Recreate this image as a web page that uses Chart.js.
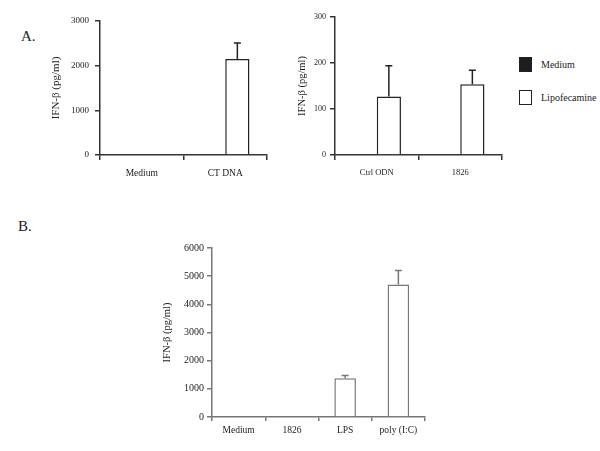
<!DOCTYPE html>
<html>
<head>
<meta charset="utf-8">
<script src="https://cdn.jsdelivr.net/npm/chart.js@4.4.0/dist/chart.umd.min.js"></script>
<style>
    body { margin: 0; background: #fff; width: 600px; height: 451px; position: relative; overflow: hidden; font-family: 'Liberation Serif', serif; }
    .box { position: absolute; }
    .panel-label { position: absolute; font-size: 15px; color: #222; }
    .legend { position: absolute; left: 519px; top: 48px; font-size: 10px; color: #222; }
    .legend-item { display: flex; align-items: center; height: 33px; }
    .legend-swatch { width: 13px; height: 15px; box-sizing: border-box; border: 1.5px solid #222; margin-right: 9px; }
</style>
</head>
<body>
<div class="panel-label" style="left:21px; top:28px;">A.</div>
<div class="panel-label" style="left:18px; top:218px;">B.</div>

<div class="box" style="left:45px; top:0px; width:235px; height:190px;"><canvas id="chartA1"></canvas></div>
<div class="box" style="left:290px; top:0px; width:220px; height:190px;"><canvas id="chartA2"></canvas></div>
<div class="box" style="left:150px; top:230px; width:290px; height:220px;"><canvas id="chartB"></canvas></div>
<div class="legend" id="legend"></div>

<script>
// данные
const seriesNames = ['Medium', 'Lipofecamine'];
const seriesColors = ['#1e1e1e', '#ffffff'];

const a1Labels = ['Medium', 'CT DNA'];
const a1Medium = [0, 0];
const a1Lipo = [0, 2150];
const a1LipoErr = [0, 360];

const a2Labels = ['Ctrl ODN', '1826'];
const a2Medium = [0, 0];
const a2Lipo = [127, 154];
const a2LipoErr = [67, 30];

const bLabels = ['Medium', '1826', 'LPS', 'poly (I:C)'];
const bValues = [0, 0, 1380, 4700];
const bErr = [0, 0, 90, 500];

const yTitle = 'IFN-β (pg/ml)';

// плагин для планок погрешностей
const errorBarPlugin = {
    id: 'errorBars',
    afterDatasetsDraw(chart) {
        const ctx = chart.ctx;
        const yScale = chart.scales.y;
        chart.data.datasets.forEach((ds, di) => {
            if (!ds.errors) return;
            const meta = chart.getDatasetMeta(di);
            meta.data.forEach((bar, i) => {
                const err = ds.errors[i];
                if (!err) return;
                const top = yScale.getPixelForValue(ds.data[i] + err);
                ctx.save();
                ctx.strokeStyle = ds.borderColor;
                ctx.lineWidth = ds.borderWidth;
                ctx.beginPath();
                ctx.moveTo(bar.x, bar.y);
                ctx.lineTo(bar.x, top);
                ctx.moveTo(bar.x - 3.5, top);
                ctx.lineTo(bar.x + 3.5, top);
                ctx.stroke();
                ctx.restore();
            });
        });
    }
};

function makeChart(id, cfg) {
    const lineColor = cfg.lineColor;
    return new Chart(document.getElementById(id), {
        type: 'bar',
        data: { labels: cfg.labels, datasets: cfg.datasets },
        options: {
            responsive: true,
            maintainAspectRatio: false,
            animation: false,
            layout: { padding: cfg.padding },
            plugins: { legend: { display: false }, tooltip: { enabled: false } },
            scales: {
                x: {
                    afterFit: (s) => { s.height = cfg.xHeight; },
                    grid: { drawOnChartArea: false, drawTicks: true, tickLength: cfg.tickLength, color: lineColor, lineWidth: 1.5 },
                    border: { color: lineColor, width: 1.5 },
                    ticks: { color: '#222', padding: cfg.xPad, font: { family: 'Liberation Serif', size: cfg.xFont } }
                },
                y: {
                    min: 0,
                    max: cfg.yMax,
                    afterFit: (s) => { s.width = cfg.yWidth; },
                    grid: { drawOnChartArea: false, drawTicks: true, tickLength: 5, color: lineColor, lineWidth: 1.5 },
                    border: { color: lineColor, width: 1.5 },
                    ticks: {
                        stepSize: cfg.yStep,
                        color: '#222',
                        padding: cfg.yPad,
                        font: { family: 'Liberation Serif', size: cfg.yFont },
                        callback: (v) => String(v)
                    },
                    title: {
                        display: true,
                        text: yTitle,
                        color: '#222',
                        padding: { top: cfg.titlePad, bottom: 0 },
                        font: { family: 'Liberation Serif', size: cfg.titleFont }
                    }
                }
            }
        },
        plugins: [errorBarPlugin]
    });
}

function groupedDatasets(medium, lipo, errs) {
    return [
        {
            label: seriesNames[0],
            data: medium,
            backgroundColor: seriesColors[0],
            borderColor: '#222',
            borderWidth: 0,
            categoryPercentage: 0.58,
            barPercentage: 1.0
        },
        {
            label: seriesNames[1],
            data: lipo,
            errors: errs,
            backgroundColor: seriesColors[1],
            borderColor: '#222',
            borderWidth: 1.5,
            borderSkipped: 'bottom',
            categoryPercentage: 0.58,
            barPercentage: 1.0
        }
    ];
}

makeChart('chartA1', {
    labels: a1Labels,
    datasets: groupedDatasets(a1Medium, a1Lipo, a1LipoErr),
    lineColor: '#333',
    padding: { top: 21, right: 13, bottom: 5, left: 0 },
    xHeight: 30, yWidth: 55, tickLength: 5, xPad: 8, yPad: 6,
    xFont: 9.5, yFont: 9, yMax: 3000, yStep: 1000, titlePad: 5, titleFont: 11
});

makeChart('chartA2', {
    labels: a2Labels,
    datasets: groupedDatasets(a2Medium, a2Lipo, a2LipoErr),
    lineColor: '#333',
    padding: { top: 17, right: 8, bottom: 5, left: 0 },
    xHeight: 30, yWidth: 45, tickLength: 5, xPad: 8, yPad: 4,
    xFont: 8.5, yFont: 8, yMax: 300, yStep: 100, titlePad: 6, titleFont: 10.5
});

makeChart('chartB', {
    labels: bLabels,
    datasets: [{
        label: 'IFN-β',
        data: bValues,
        errors: bErr,
        backgroundColor: '#ffffff',
        borderColor: '#777',
        borderWidth: 1.5,
        borderSkipped: 'bottom',
        categoryPercentage: 0.45,
        barPercentage: 0.9
    }],
    lineColor: '#777',
    padding: { top: 18, right: 15, bottom: 5, left: 0 },
    xHeight: 28, yWidth: 62, tickLength: 4, xPad: 4, yPad: 3,
    xFont: 9.5, yFont: 10, yMax: 6000, yStep: 1000, titlePad: 11, titleFont: 10.5
});

// легенда
const legend = document.getElementById('legend');
seriesNames.forEach((name, i) => {
    const item = document.createElement('div');
    item.className = 'legend-item';
    const sw = document.createElement('div');
    sw.className = 'legend-swatch';
    sw.style.background = seriesColors[i];
    const txt = document.createElement('span');
    txt.textContent = name;
    item.appendChild(sw);
    item.appendChild(txt);
    legend.appendChild(item);
});
</script>
</body>
</html>
